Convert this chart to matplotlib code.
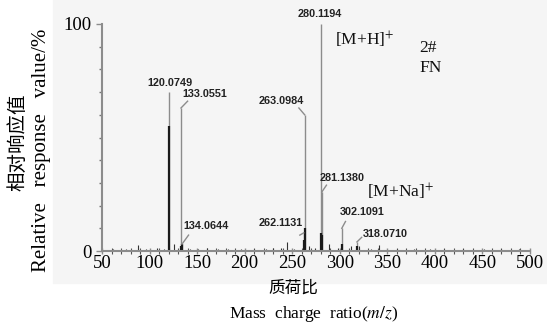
import matplotlib.pyplot as plt
from matplotlib.patches import Rectangle

# labelled peaks: m/z, dark stem height (%), grey line height (%)
peak_mz = [120.0749, 133.0551, 134.0644, 262.1131, 263.0984, 280.1194, 281.1380, 302.1091, 318.0710]
peak_int = [55, 2, 3, 5, 10, 8, 7, 3, 2]
peak_line = [70, 63, 3, 8, 60, 100, 26, 10, 4]
peak_text = ["120.0749", "133.0551", "134.0644", "262.1131", "263.0984",
             "280.1194", "281.1380", "302.1091", "318.0710"]

# small baseline peaks
noise_mz = [62, 75, 88, 96, 108, 115, 126, 142, 151, 160, 172, 183, 196, 210, 222, 230,
            238, 244, 252, 268, 274, 289, 298, 312, 320, 333, 341, 360, 378, 395, 410, 430, 452, 470, 488]
noise_int = [1, 1, 2.5, 1, 1.5, 1, 3, 1, 1, 1.5, 1, 1, 1, 1, 1, 1.5,
             1.5, 4, 1, 2, 1.5, 3, 1.5, 2, 2, 1, 2.5, 1, 1, 1, 1, 1, 1, 1, 1]

x_ticks = [50, 100, 150, 200, 250, 300, 350, 400, 450, 500]
y_ticks = [0, 100]

plt.rcParams['font.family'] = ['Liberation Serif', 'Noto Sans CJK SC']
plt.rcParams['mathtext.fontset'] = 'stix'

fig = plt.figure(figsize=(5.47, 3.27), dpi=100)
fig.patches.append(Rectangle((53 / 547, 44 / 327), 494 / 547, 283 / 327,
                             transform=fig.transFigure, color='#f5f5f5', zorder=-5))
ax = fig.add_axes([102 / 547, 76 / 327, 428 / 547, 227 / 327])
ax.set_facecolor('none')
ax.set_zorder(2)

# noise and peaks
ax.vlines(noise_mz, 0, noise_int, color='#333333', lw=0.8)
ax.vlines(peak_mz, 0, peak_line, color='#8c8c8c', lw=1.0)
ax.vlines(peak_mz, 0, peak_int, color='#1a1a1a', lw=1.6)

# labels with leader lines (text x, text y, leader end x, leader end y)
lab_pos = [(121.5, 72, None, None),
           (158, 67, 140, 66),
           (159, 9, 141, 7),
           (238, 10, 258, 7),
           (239, 64, 257, 63),
           (279, 102, None, None),
           (302, 30, 286, 29),
           (324, 15, 306, 13),
           (347.5, 5.5, 323, 6)]
for mz, top, txt, (tx, ty, lx, ly) in zip(peak_mz, peak_line, peak_text, lab_pos):
    if lx is not None:
        ax.plot([mz, lx], [top, ly], color='#8c8c8c', lw=1.0, clip_on=False)
    ax.text(tx, ty, txt, ha='center', va='bottom', fontsize=7.8, fontweight='bold',
            family='Liberation Sans', color='#222222', clip_on=False)

ax.text(295, 93, '[M+H]$^{+}$', fontsize=12.5, color='#111111', va='center')
ax.text(329, 26, '[M+Na]$^{+}$', fontsize=12.5, color='#111111', va='center')
ax.text(384, 89.4, '2#', fontsize=12.5, color='#111111', va='center')
ax.text(384, 80.6, 'FN', fontsize=12.5, color='#111111', va='center')

ax.set_xlim(50, 500)
ax.set_ylim(0, 100)
ax.set_xticks(x_ticks)
ax.set_xticks(range(50, 501, 10), minor=True)
ax.set_yticks(y_ticks)
ax.set_yticks(range(0, 101, 10), minor=True)
for s in ['top', 'right']:
    ax.spines[s].set_visible(False)
for s in ['left', 'bottom']:
    ax.spines[s].set_color('#8c8c8c')
    ax.spines[s].set_linewidth(1.5)
ax.tick_params(axis='both', which='major', labelsize=13.5, color='#8c8c8c', length=4, width=1)
ax.tick_params(axis='x', which='both', direction='inout')
ax.tick_params(axis='x', which='minor', length=4, color='#555555', width=0.8)
ax.tick_params(axis='y', which='minor', length=2, color='#777777', width=1, direction='out')
ax.tick_params(axis='x', pad=1)

fig.text(18 / 547, 1 - 142 / 327, '相对响应值', rotation=90, ha='center', va='center',
         fontsize=14, family=['Noto Sans CJK SC'])
fig.text(42 / 547, 1 - 150 / 327, 'Relative   response   value/%', rotation=90,
         ha='center', va='center', fontsize=15)
fig.text(293 / 547, 1 - 288 / 327, '质荷比', ha='center', va='center', fontsize=12,
         family=['Noto Sans CJK SC'])
fig.text(314 / 547, 1 - 314 / 327, 'Mass  charge  ratio($\\it{m/z}$)', ha='center',
         va='center', fontsize=12.5)

fig.savefig('out.png', dpi=100)
